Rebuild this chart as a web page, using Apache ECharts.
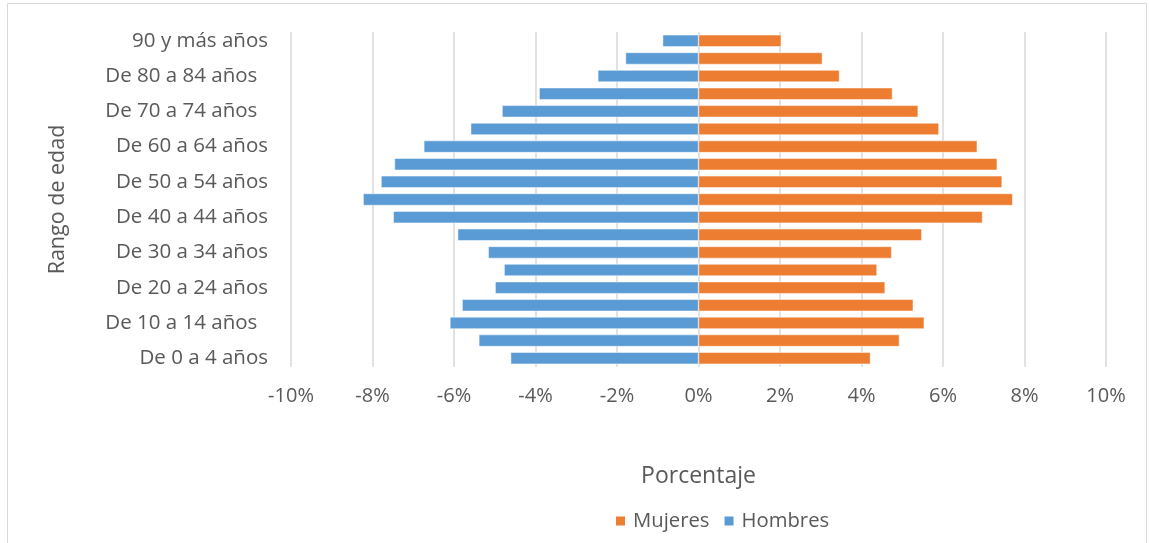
<!DOCTYPE html>
<html>
<head>
<meta charset="utf-8">
<script src="https://cdn.jsdelivr.net/npm/echarts@6/dist/echarts.min.js"></script>
<style>
html,body{margin:0;padding:0;background:#fff;}
#c{width:1150px;height:543px;}
</style>
</head>
<body>
<div id="c"></div>
<script>
// Categories bottom (0-4) to top (90+)
var categories = [
  'De 0 a 4 años', 'De 5 a 9 años', 'De 10 a 14 años  ', 'De 15 a 19 años',
  'De 20 a 24 años', 'De 25 a 29 años', 'De 30 a 34 años', 'De 35 a 39 años',
  'De 40 a 44 años', 'De 45 a 49 años', 'De 50 a 54 años', 'De 55 a 59 años',
  'De 60 a 64 años', 'De 65 a 69 años', 'De 70 a 74 años  ', 'De 75 a 79 años',
  'De 80 a 84 años  ', 'De 85 a 89 años', '90 y más años'
];
var mujeres = [4.22, 4.93, 5.54, 5.27, 4.58, 4.38, 4.74, 5.48, 6.97, 7.71,
               7.45, 7.33, 6.84, 5.90, 5.39, 4.76, 3.46, 3.04, 2.03];
var hombres = [-4.61, -5.39, -6.10, -5.80, -4.99, -4.77, -5.16, -5.91, -7.49, -8.23,
               -7.79, -7.46, -6.74, -5.59, -4.82, -3.91, -2.47, -1.79, -0.88];
var xTicks = { min: -10, max: 10, interval: 2 };

var FONT = 'Open Sans';
var TXT = '#595959';
var chart = echarts.init(document.getElementById('c'));
chart.setOption({
  animation: false,
  textStyle: { fontFamily: FONT },
  graphic: [{
    type: 'rect', shape: { x: 7.5, y: 3.5, width: 1139, height: 560 },
    style: { fill: 'none', stroke: '#d9d9d9', lineWidth: 1 }, silent: true
  }],
  grid: { left: 291, right: 44, top: 32, bottom: 176 },
  legend: {
    data: ['Mujeres', 'Hombres'],
    left: 609, top: 506,
    itemWidth: 11, itemHeight: 11, itemGap: 13,
    icon: 'rect',
    textStyle: { fontFamily: FONT, fontSize: 20.3, color: TXT, padding: [0, 0, 0, 2] }
  },
  xAxis: {
    type: 'value', min: xTicks.min, max: xTicks.max, interval: xTicks.interval,
    name: 'Porcentaje', nameLocation: 'middle', nameGap: 98,
    nameTextStyle: { fontFamily: FONT, fontSize: 23, color: TXT },
    axisLine: { show: false }, axisTick: { show: false },
    axisLabel: { formatter: function (v) { return v + '%'; }, fontFamily: FONT, fontSize: 20, color: TXT, margin: 19 },
    splitLine: { show: true, lineStyle: { color: '#d9d9d9', width: 1.5 } }
  },
  yAxis: {
    type: 'category', data: categories,
    name: 'Rango de edad', nameLocation: 'middle', nameGap: 222,
    nameTextStyle: { fontFamily: FONT, fontSize: 21.5, color: TXT },
    axisLine: { show: false }, axisTick: { show: false },
    axisLabel: { interval: 1, fontFamily: FONT, fontSize: 20.5, color: TXT, margin: 23 }
  },
  series: [
    { name: 'Mujeres', type: 'bar', data: mujeres, barWidth: 12, barGap: '-100%',
      itemStyle: { color: '#ED7D31', borderColor: '#fff', borderWidth: 0.5 } },
    { name: 'Hombres', type: 'bar', data: hombres, barWidth: 12, barGap: '-100%',
      itemStyle: { color: '#5B9BD5', borderColor: '#fff', borderWidth: 0.5 } }
  ]
});
</script>
</body>
</html>
